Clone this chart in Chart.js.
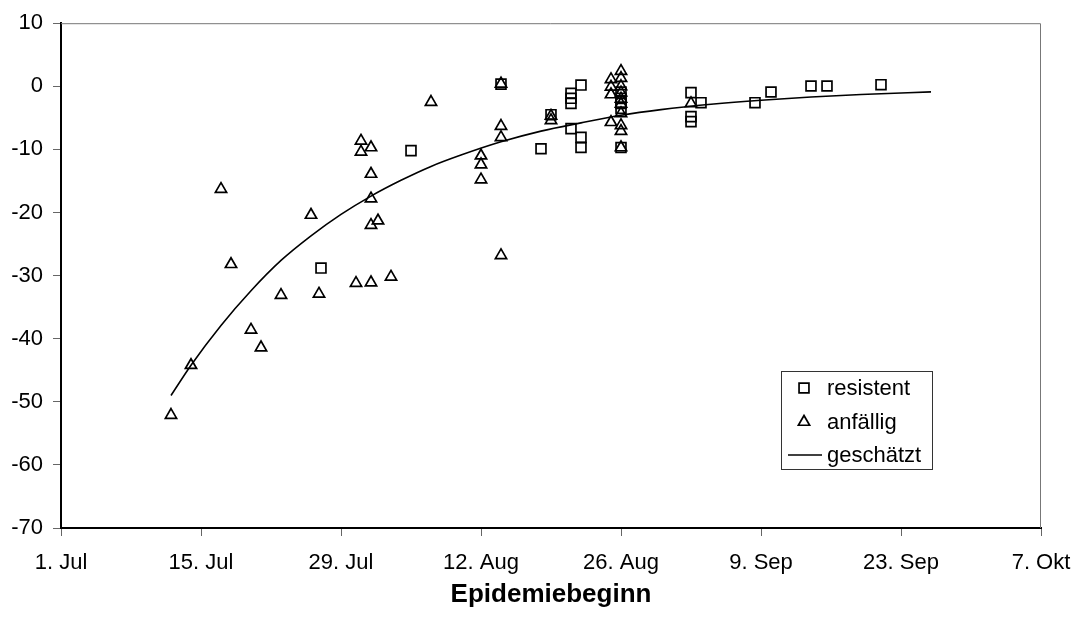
<!DOCTYPE html>
<html>
<head>
<meta charset="utf-8">
<title>Epidemiebeginn</title>
<script src="https://cdn.jsdelivr.net/npm/chart.js"></script>
<style>
  html, body { margin: 0; padding: 0; background: #fff; }
  #wrap { width: 1077px; height: 619px; }
</style>
</head>
<body>
<div id="wrap"><canvas id="chart" width="1077" height="619"></canvas></div>
<script>
// x values are days after 1. Jul
const tickDays = [0, 14, 28, 42, 56, 70, 84, 98];
const tickLabels = ['1. Jul', '15. Jul', '29. Jul', '12. Aug', '26. Aug', '9. Sep', '23. Sep', '7. Okt'];
const yTicks = [10, 0, -10, -20, -30, -40, -50, -60, -70];

// resistent (squares)
const resistentDays = [26, 35, 44, 48, 49, 51, 51, 51, 51, 52, 52, 52,
  56, 56, 56, 56, 56, 63, 63, 63, 64, 69.4, 71, 75, 76.6, 82];
const resistentValues = [-28.8, -10.2, 0.35, -9.9, -4.5, -1.1, -1.9, -2.7, -6.7, 0.2, -8.1, -9.7,
  -0.9, -1.9, -2.7, -3.5, -9.7, -1.0, -4.8, -5.6, -2.6, -2.6, -0.9, 0.05, 0.05, 0.25];

// anfällig (triangles)
const anfaelligDays = [11, 13, 16, 17, 19, 20, 22, 25, 25.8, 29.5, 30, 30, 31, 31, 31, 31, 31.7, 31, 33,
  37, 42, 42, 42, 44, 44, 44, 44, 49, 49, 55, 55, 55, 55,
  56, 56, 56, 56, 56, 56, 56, 56, 56, 56, 63];
const anfaelligValues = [-52.1, -44.2, -16.3, -28.2, -38.6, -41.4, -33.1, -20.4, -32.9, -31.2, -8.65, -10.4, -9.7, -13.9, -17.8, -22.0, -21.3, -31.1, -30.2,
  -2.5, -11.0, -12.4, -14.8, 0.4, -6.3, -8.1, -26.8, -4.7, -5.4, 1.1, -0.1, -1.3, -5.7,
  2.4, 1.3, 0, -1.0, -2.0, -2.8, -4.3, -6.2, -7.1, -9.7, -2.7];

// geschätzt (fitted curve)
const geschaetztDays = [11, 13, 16, 19, 22, 25, 28, 31, 34, 37, 40, 44, 48, 52, 56, 60, 65, 70, 75, 80, 87];
const geschaetztValues = [-49, -44.2, -37.9, -32.4, -27.6, -23.7, -20.3, -17.4, -14.9, -12.7, -10.9, -8.8,
  -7.1, -5.8, -4.6, -3.7, -2.85, -2.2, -1.7, -1.3, -0.88];

const toPoints = (xs, ys) => xs.map((x, i) => ({ x: x, y: ys[i] }));

const FONT = "'Liberation Sans', Arial, Helvetica, sans-serif";

// grey frame on top and right of the plot area
const plotFrame = {
  id: 'plotFrame',
  beforeDatasetsDraw(chart) {
    const { ctx, chartArea: a } = chart;
    ctx.save();
    ctx.strokeStyle = '#777';
    ctx.lineWidth = 1;
    ctx.beginPath();
    ctx.moveTo(a.left, a.top + 0.5);
    ctx.lineTo(a.right - 0.5, a.top + 0.5);
    ctx.lineTo(a.right - 0.5, a.bottom);
    ctx.stroke();
    ctx.restore();
  }
};

// legend box inside the plot, lower right
const legendBox = {
  id: 'legendBox',
  afterDraw(chart) {
    const ctx = chart.ctx;
    const box = { x: 781, y: 371, w: 151, h: 98 };
    ctx.save();
    ctx.fillStyle = '#fff';
    ctx.fillRect(box.x, box.y, box.w, box.h);
    ctx.strokeStyle = '#333';
    ctx.lineWidth = 1;
    ctx.strokeRect(box.x + 0.5, box.y + 0.5, box.w, box.h);
    const rows = [388, 422, 455];
    chart.data.datasets.forEach((ds, i) => {
      const y = rows[i];
      ctx.strokeStyle = '#000';
      if (ds.pointRadius > 0) {
        ctx.fillStyle = 'rgba(0,0,0,0)';
        ctx.lineWidth = ds.pointBorderWidth;
        Chart.helpers.drawPoint(ctx, { pointStyle: ds.pointStyle, radius: ds.pointRadius, rotation: 0, borderWidth: ds.pointBorderWidth }, 804, y);
      } else {
        ctx.lineWidth = ds.borderWidth;
        ctx.beginPath();
        ctx.moveTo(788, y);
        ctx.lineTo(822, y);
        ctx.stroke();
      }
      ctx.font = '22px ' + FONT;
      ctx.fillStyle = '#000';
      ctx.textBaseline = 'middle';
      ctx.fillText(ds.label, 827, y + 1);
    });
    ctx.restore();
  }
};

new Chart(document.getElementById('chart'), {
  type: 'scatter',
  data: {
    datasets: [
      {
        label: 'resistent',
        data: toPoints(resistentDays, resistentValues),
        pointStyle: 'rect',
        pointRadius: 7,
        pointBorderWidth: 1.7,
        borderColor: '#000',
        backgroundColor: 'rgba(0,0,0,0)',
        showLine: false
      },
      {
        label: 'anfällig',
        data: toPoints(anfaelligDays, anfaelligValues),
        pointStyle: 'triangle',
        pointRadius: 6.5,
        pointBorderWidth: 1.7,
        borderColor: '#000',
        backgroundColor: 'rgba(0,0,0,0)',
        showLine: false
      },
      {
        label: 'geschätzt',
        data: toPoints(geschaetztDays, geschaetztValues),
        showLine: true,
        pointRadius: 0,
        borderColor: '#000',
        borderWidth: 1.6,
        cubicInterpolationMode: 'monotone',
        fill: false
      }
    ]
  },
  options: {
    responsive: false,
    animation: false,
    devicePixelRatio: 1,
    layout: { padding: { left: 0, top: 23, right: 36, bottom: 0 } },
    plugins: {
      legend: { display: false },
      tooltip: { enabled: false }
    },
    scales: {
      x: {
        type: 'linear',
        min: tickDays[0],
        max: tickDays[tickDays.length - 1],
        afterBuildTicks: (scale) => { scale.ticks = tickDays.map(v => ({ value: v })); },
        afterFit: (scale) => {
          scale.height = 91;
          scale.paddingLeft = 0;
          scale.paddingRight = 0;
        },
        ticks: {
          color: '#000',
          font: { family: FONT, size: 22 },
          padding: 14,
          maxRotation: 0,
          callback: (v) => tickLabels[tickDays.indexOf(v)]
        },
        grid: { drawOnChartArea: false, drawTicks: true, tickLength: 8, color: '#666' },
        border: { display: true, color: '#000', width: 2 },
        title: {
          display: true,
          text: 'Epidemiebeginn',
          color: '#000',
          font: { family: FONT, size: 26, weight: 'bold' },
          padding: { top: 0, bottom: 9 }
        }
      },
      y: {
        min: -70,
        max: 10,
        afterBuildTicks: (scale) => { scale.ticks = yTicks.map(v => ({ value: v })); },
        afterFit: (scale) => { scale.width = 61; },
        ticks: {
          color: '#000',
          font: { family: FONT, size: 22 },
          padding: 10
        },
        grid: { drawOnChartArea: false, drawTicks: true, tickLength: 8, color: '#666' },
        border: { display: true, color: '#000', width: 2 }
      }
    }
  },
  plugins: [plotFrame, legendBox]
});
</script>
</body>
</html>
